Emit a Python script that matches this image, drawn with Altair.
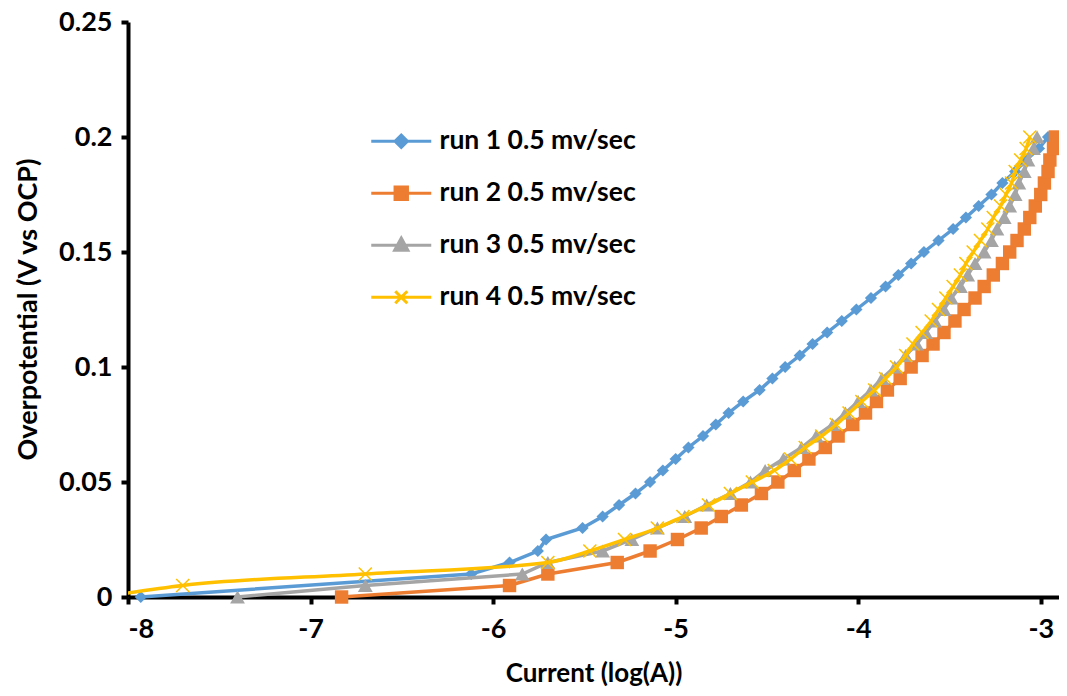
import altair as alt
import pandas as pd

# ---- data ----
series_names = ["run 1 0.5 mv/sec", "run 2 0.5 mv/sec", "run 3 0.5 mv/sec", "run 4 0.5 mv/sec"]
series_colors = ["#5B9BD5", "#ED7D31", "#A5A5A5", "#FFC000"]

eta = [0.000, 0.005, 0.010, 0.015, 0.020, 0.025, 0.030, 0.035, 0.040, 0.045,
       0.050, 0.055, 0.060, 0.065, 0.070, 0.075, 0.080, 0.085, 0.090, 0.095,
       0.100, 0.105, 0.110, 0.115, 0.120, 0.125, 0.130, 0.135, 0.140, 0.145,
       0.150, 0.155, 0.160, 0.165, 0.170, 0.175, 0.180, 0.185, 0.190, 0.195,
       0.200]

run1 = [-7.93, None, -6.12, -5.91, -5.755, -5.71, -5.51, -5.40, -5.31, -5.22,
        -5.14, -5.07, -5.00, -4.93, -4.85, -4.78, -4.71, -4.63, -4.54, -4.47,
        -4.40, -4.32, -4.25, -4.17, -4.09, -4.01, -3.93, -3.85, -3.78, -3.71,
        -3.64, -3.56, -3.48, -3.41, -3.34, -3.27, -3.21, -3.14, -3.08, -3.01,
        -2.96]
run2 = [-6.83, -5.91, -5.70, -5.32, -5.14, -4.99, -4.86, -4.75, -4.64, -4.53,
        -4.44, -4.35, -4.27, -4.18, -4.11, -4.03, -3.96, -3.90, -3.84, -3.77,
        -3.71, -3.65, -3.59, -3.53, -3.47, -3.42, -3.36, -3.31, -3.26, -3.21,
        -3.17, -3.13, -3.09, -3.06, -3.03, -3.00, -2.98, -2.96, -2.95, -2.93,
        -2.92]
run3 = [-7.40, -6.70, -5.84, -5.70, -5.40, -5.24, -5.10, -4.95, -4.83, -4.70,
        -4.59, -4.51, -4.41, -4.31, -4.23, -4.14, -4.07, -4.00, -3.93, -3.87,
        -3.80, -3.74, -3.68, -3.63, -3.58, -3.53, -3.49, -3.44, -3.40, -3.36,
        -3.31, -3.27, -3.24, -3.20, -3.17, -3.14, -3.12, -3.09, -3.07, -3.04,
        -3.02]
run4 = [-8.15, -7.70, -6.70, -5.70, -5.47, -5.28, -5.10, -4.96, -4.82, -4.70,
        -4.58, -4.46, -4.37, -4.29, -4.20, -4.12, -4.05, -3.98, -3.91, -3.85,
        -3.79, -3.74, -3.70, -3.65, -3.60, -3.56, -3.52, -3.48, -3.44, -3.41,
        -3.37, -3.33, -3.29, -3.26, -3.22, -3.19, -3.16, -3.14, -3.11, -3.08,
        -3.06]

x_ticks = [-8, -7, -6, -5, -4, -3]
y_ticks = [0, 0.05, 0.1, 0.15, 0.2, 0.25]
x_domain = [-8, -2.9]
y_domain = [0, 0.25]

# ---- tables ----
frames = []
for name, xs in zip(series_names, [run1, run2, run3, run4]):
    for cur, e in zip(xs, eta):
        if cur is not None:
            frames.append({"series": name, "current": cur, "eta": e})
df = pd.DataFrame(frames)

FONT = "Lato"

x_enc = alt.X("current:Q",
              scale=alt.Scale(domain=x_domain, nice=False, zero=False),
              axis=alt.Axis(values=x_ticks, labelExpr="datum.value + ''",
                            title="Current (log(A))",
                            labelPadding=12, titleY=76, titleBaseline="middle",
                            titleFontSize=26))
y_enc = alt.Y("eta:Q",
              scale=alt.Scale(domain=y_domain, nice=False, zero=False),
              axis=alt.Axis(values=y_ticks, format=".2~f", title="Overpotential  (V vs OCP)",
                            labelPadding=9, titleX=-100, titleY=287, titleAngle=270,
                            titleAlign="center", titleBaseline="middle",
                            titleFontSize=27))

marker_shapes = ["diamond", "square", "triangle-up", "M-1,-1L1,1M-1,1L1,-1"]
marker_sizes = [150, 180, 220, 170]

layers = []
for i, name in enumerate(series_names):
    sub = df[df["series"] == name]
    base = alt.Chart(sub)
    smooth = (i == 3)
    line = base.mark_line(color=series_colors[i], strokeWidth=3.5,
                          interpolate="monotone" if smooth else "linear",
                          clip=smooth).encode(x=x_enc, y=y_enc)
    if i == 3:
        pts = base.mark_point(shape=marker_shapes[i], filled=False, color=series_colors[i],
                              strokeWidth=1.6, size=marker_sizes[i], opacity=1,
                              clip=True).encode(x=x_enc, y=y_enc)
    else:
        pts = base.mark_point(shape=marker_shapes[i], filled=True, color=series_colors[i],
                              size=marker_sizes[i], opacity=1).encode(x=x_enc, y=y_enc)
    layers += [line, pts]

# legend-only layer (invisible marks) with line+marker symbols
legend_paths = [
    "M-3,0L3,0M0,-0.62L0.62,0L0,0.62L-0.62,0Z",
    "M-3,0L3,0M-0.62,-0.62L0.62,-0.62L0.62,0.62L-0.62,0.62Z",
    "M-3,0L3,0M0,-0.72L0.66,0.5L-0.66,0.5Z",
    "M-3,0L3,0M-0.6,-0.6L0.6,0.6M-0.6,0.6L0.6,-0.6",
]
leg = alt.Legend(title=None, orient="none", legendX=260, legendY=106, direction="vertical",
                 symbolSize=400, symbolStrokeWidth=3, symbolOpacity=1,
                 labelFont=FONT, labelFontWeight="bold", labelFontSize=26.5,
                 labelColor="black", labelOffset=25, rowPadding=25, padding=0,
                 labelLimit=500)
legend_layer = alt.Chart(df).mark_point(filled=True, opacity=0).encode(
    x=x_enc, y=y_enc,
    color=alt.Color("series:N", scale=alt.Scale(domain=series_names, range=series_colors), legend=leg),
    stroke=alt.Stroke("series:N", scale=alt.Scale(domain=series_names, range=series_colors), legend=leg),
    shape=alt.Shape("series:N", scale=alt.Scale(domain=series_names, range=legend_paths), legend=leg),
)
layers.append(legend_layer)

chart = alt.layer(*layers).properties(
    width=931, height=575,
    padding={"left": 120, "top": 14, "right": 0, "bottom": 91},
    autosize=alt.AutoSizeParams(type="none"),
    background="white",
).configure_view(stroke=None).configure_axis(
    grid=False, domainColor="black", domainWidth=4, tickColor="black", tickWidth=4,
    tickSize=7, labelFont=FONT, labelFontWeight="bold", labelFontSize=27,
    labelColor="black", titleFont=FONT, titleFontWeight="bold", titleColor="black",
)

chart.save("out.html", embed_options={"renderer": "svg", "actions": False})
